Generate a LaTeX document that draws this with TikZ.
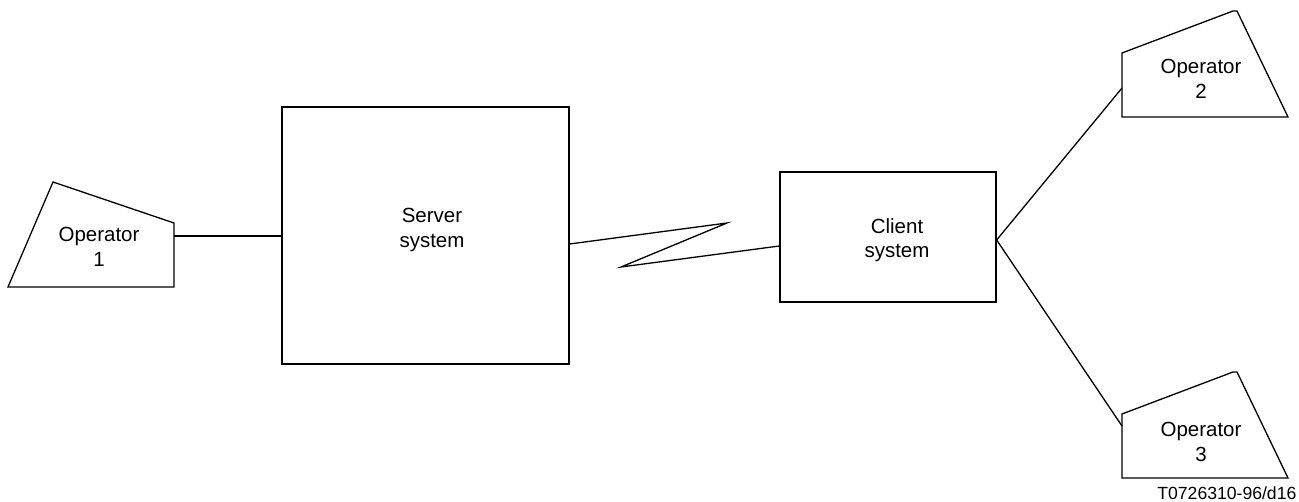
\documentclass[tikz,border=0pt]{standalone}
\usepackage{fontspec}
\setmainfont{Liberation Sans}
\begin{document}
\begin{tikzpicture}[x=1pt,y=-1pt,
  line width=1.3pt, line join=miter,
  lbl/.style={align=center, font=\fontsize{20.5}{24.5}\selectfont, inner sep=0pt},
  boxstyle/.style={draw, line width=1.3pt},
  operator/.style={draw, line width=1.3pt}]
\useasboundingbox (0,0) rectangle (1299,502);
% boxes
\node[boxstyle, minimum width=287pt, minimum height=257pt, inner sep=0pt] (server) at (425.5,235.5) {};
\node[lbl] (servertxt) at (432,230) {Server\\system};
\node[boxstyle, minimum width=216pt, minimum height=130pt, inner sep=0pt] (client) at (888,237) {};
\node[lbl] (clienttxt) at (897,240) {Client\\system};
% operator 1
\draw[operator] (53,182) -- (174,223) -- (174,287) -- (8,287) -- cycle;
\node[lbl] (op1) at (99,247) {Operator\\1};
% operator 2
\draw[operator] (1122,53) -- (1233,11) -- (1237,11) -- (1288,117) -- (1122,117) -- cycle;
\node[lbl] (op2) at (1201,79) {Operator\\2};
% operator 3
\draw[operator] (1122,414) -- (1233,372) -- (1237,372) -- (1288,478) -- (1122,478) -- cycle;
\node[lbl] (op3) at (1201,442) {Operator\\3};
% connection points
\coordinate (o1r) at (174,236);
\coordinate (o2l) at (1122,88);
\coordinate (o3l) at (1122,426);
\coordinate (zz1) at (727,223);
\coordinate (zz2) at (621,267);
% connectors
\draw[line width=2pt] (o1r) -- (o1r -| server.west);
\draw (server.east |- 0,244) -- (zz1) -- (zz2) -- (client.west |- 0,246);
\draw (client.east |- 0,240) -- (o2l);
\draw (client.east |- 0,240) -- (o3l);
% figure code
\node[anchor=base east, font=\fontsize{17.6}{20}\selectfont, inner sep=0pt] (code) at (1297,499) {T0726310-96/d16};
\end{tikzpicture}
\end{document}
